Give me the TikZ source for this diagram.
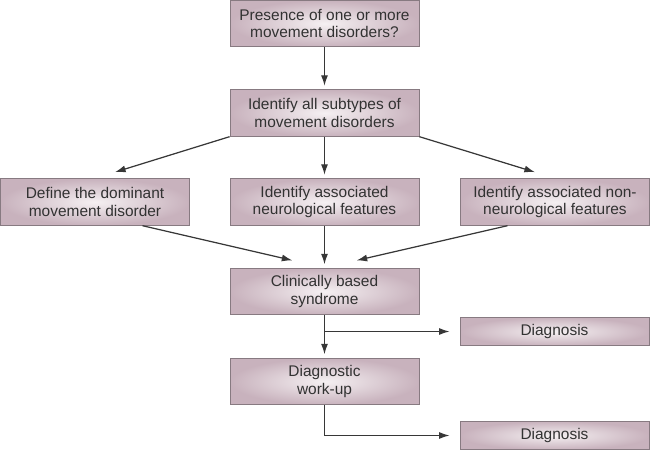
\documentclass[tikz,border=0pt]{standalone}
\usepackage{fontspec}
\setmainfont{Liberation Sans}
\usepackage{tikz}
\usetikzlibrary{arrows.meta,calc}

\definecolor{boxedge}{RGB}{200,178,189}
\definecolor{boxmid}{RGB}{245,240,242}
\definecolor{boxline}{RGB}{135,122,129}
\definecolor{flowline}{RGB}{55,55,55}
\definecolor{boxtext}{RGB}{50,50,50}

\begin{document}
\begin{tikzpicture}[
  x=0.02cm, y=-0.02cm,
  font=\fontsize{8.8}{10.2}\selectfont,
  stepbox/.style={draw=boxline, line width=0.5pt, inner color=boxmid, outer color=boxedge, text=boxtext, align=center, minimum width=3.78cm, minimum height=0.93cm, inner sep=1pt},
  resultbox/.style={stepbox, minimum height=0.57cm},
  arrow/.style={draw=flowline, line width=0.7pt, -{Latex[length=6pt,width=4pt]}, shorten >=2pt}
]
\useasboundingbox (0,0) rectangle (650,450);

\node[stepbox] (presence) at (324.5,23.5) {Presence of one or more\\movement disorders?};
\node[stepbox] (subtypes) at (324.5,113) {Identify all subtypes of\\movement disorders};

\node[stepbox] (dominant) at (95,202) {Define the dominant\\movement disorder};
\node[stepbox] (neuro) at (324.5,202) {Identify associated\\neurological features};
\node[stepbox] (nonneuro) at (555,202) {Identify associated non-\\neurological features};

\node[stepbox] (syndrome) at (324.5,291.5) {Clinically based\\syndrome};
\node[resultbox] (diagone) at (554.5,331.5) {Diagnosis};
\node[stepbox] (workup) at (324.5,381.5) {Diagnostic\\work-up};
\node[resultbox] (diagtwo) at (554.5,435.5) {Diagnosis};

\draw[arrow] (presence.south) -- (subtypes.north);
\draw[arrow, shorten >=0.42cm] (subtypes.south west) -- (dominant.north);
\draw[arrow] (subtypes.south) -- (neuro.north);
\draw[arrow, shorten >=0.42cm] (subtypes.south east) -- (nonneuro.north);

\draw[arrow, shorten >=0.66cm] ($(dominant.south)!.5!(dominant.south east)$) -- (syndrome.north);
\draw[arrow] (neuro.south) -- (syndrome.north);
\draw[arrow, shorten >=0.66cm] ($(nonneuro.south)!.5!(nonneuro.south west)$) -- (syndrome.north);

\draw[arrow] (syndrome.south) -- (workup.north);
\draw[arrow, shorten >=0.2cm] (syndrome.south |- diagone.west) -- (diagone.west);
\draw[arrow, shorten >=0.2cm] (workup.south) |- (diagtwo.west);
\end{tikzpicture}
\end{document}
